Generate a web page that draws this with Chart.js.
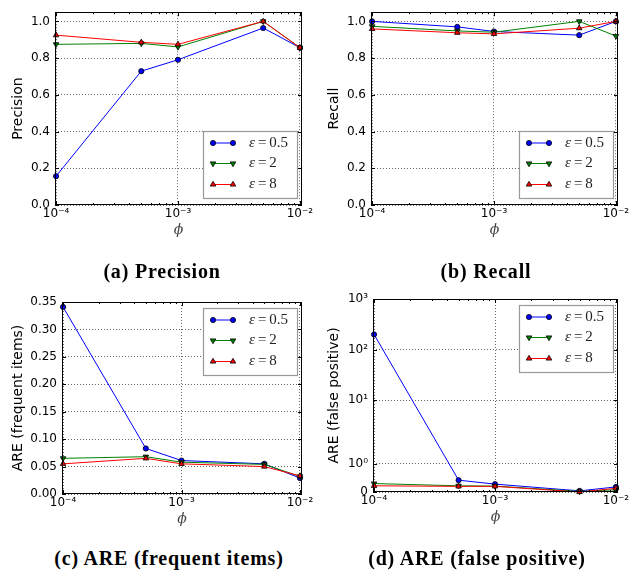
<!DOCTYPE html>
<html>
<head>
<meta charset="utf-8">
<script src="https://cdn.jsdelivr.net/npm/chart.js@4"></script>
<style>
  body { margin: 0; background: #fff; width: 636px; height: 571px; position: relative; overflow: hidden; }
  canvas { position: absolute; }
  .cap { position: absolute; font: bold 20px 'Liberation Serif', serif; letter-spacing: 0.8px;
         white-space: nowrap; transform: translate(-50%, -50%); color: #000; }
</style>
</head>
<body>
<canvas id="chartA" width="318" height="240" style="left:0;top:0"></canvas>
<canvas id="chartB" width="318" height="240" style="left:316px;top:0"></canvas>
<canvas id="chartC" width="318" height="249" style="left:0;top:280px"></canvas>
<canvas id="chartD" width="318" height="247" style="left:316px;top:280px"></canvas>
<div class="cap" style="left:162px;top:271px">(a) Precision</div>
<div class="cap" style="left:486px;top:271px">(b) Recall</div>
<div class="cap" style="left:169px;top:558px">(c) ARE (frequent items)</div>
<div class="cap" style="left:477px;top:558px">(d) ARE (false positive)</div>
<script>
// phi values on the x axis
const phi = [1e-4, 5e-4, 1e-3, 5e-3, 1e-2];
const epsLabels = ['0.5', '2', '8'];

// (a) precision
const precision05 = [0.157, 0.729, 0.791, 0.964, 0.857];
const precision2  = [0.875, 0.880, 0.861, 1.000, 0.857];
const precision8  = [0.925, 0.886, 0.875, 1.000, 0.857];
// (b) recall
const recall05 = [1.000, 0.970, 0.945, 0.925, 1.000];
const recall2  = [0.973, 0.948, 0.941, 1.000, 0.920];
const recall8  = [0.959, 0.938, 0.932, 0.963, 1.000];
// (c) ARE of frequent items
const areFreq05 = [0.341, 0.083, 0.061, 0.055, 0.029];
const areFreq2  = [0.065, 0.068, 0.058, 0.054, 0.032];
const areFreq8  = [0.055, 0.065, 0.055, 0.050, 0.033];
// (d) ARE of false positives (symlog axis)
const areFp05 = [200, 0.42, 0.28, 0.04, 0.18];
const areFp2  = [0.30, 0.22, 0.21, 0.02, 0.08];
const areFp8  = [0.22, 0.20, 0.20, 0.00, 0.13];

// tick values
const xTicks = [1e-4, 1e-3, 1e-2];
const unitTicks = [0, 0.2, 0.4, 0.6, 0.8, 1.0];
const areFreqTicks = [0, 0.05, 0.10, 0.15, 0.20, 0.25, 0.30, 0.35];
const areFpTicks = [0, 1, 10, 100, 1000];

const styles = [
  { color: '#0000ff', pointStyle: 'circle', rotation: 0, radius: 2.6 },
  { color: '#008000', pointStyle: 'triangle', rotation: 180, radius: 3.2 },
  { color: '#ff0000', pointStyle: 'triangle', rotation: 0, radius: 3.2 }
];

Chart.defaults.font.family = "'DejaVu Sans', sans-serif";
Chart.defaults.font.size = 12;
Chart.defaults.color = '#000';

const SUP = { '-': '⁻', '0': '⁰', '1': '¹', '2': '²', '3': '³', '4': '⁴', '5': '⁵' };
function pow10Label(v) {
  const e = String(Math.round(Math.log10(v)));
  return '10' + e.split('').map(c => SUP[c]).join('');
}

// symmetric log, linthresh 2, linscale 1 (matplotlib style)
const LINTHRESH = 2;
const LINSCALE = 1 / (1 - 1 / 10);
function symlog(v) {
  const a = Math.abs(v);
  if (a <= LINTHRESH) return v / LINTHRESH * LINSCALE;
  return Math.sign(v) * (LINSCALE + Math.log10(a / LINTHRESH));
}
function symexp(u) {
  const a = Math.abs(u);
  if (a <= LINSCALE) return u * LINTHRESH / LINSCALE;
  return Math.sign(u) * LINTHRESH * Math.pow(10, a - LINSCALE);
}
class SymlogScale extends Chart.LinearScale {
  getPixelForValue(value) {
    const lo = symlog(this.min), hi = symlog(this.max);
    return this.getPixelForDecimal((symlog(value) - lo) / (hi - lo));
  }
  getValueForPixel(pixel) {
    const lo = symlog(this.min), hi = symlog(this.max);
    return symexp(lo + this.getDecimalForPixel(pixel) * (hi - lo));
  }
}
SymlogScale.id = 'symlog';
SymlogScale.defaults = Chart.LinearScale.defaults;
Chart.register(SymlogScale);

// full box, inward ticks, minor ticks on the log x axis
const framePlugin = {
  id: 'frame',
  afterDatasetsDraw(chart) {
    const { ctx, chartArea: a, scales: { x, y } } = chart;
    ctx.save();
    ctx.strokeStyle = '#000';
    ctx.lineWidth = 1;
    ctx.beginPath();
    x.ticks.forEach(t => {
      const px = Math.round(x.getPixelForValue(t.value)) + 0.5;
      ctx.moveTo(px, a.bottom); ctx.lineTo(px, a.bottom - 4);
      ctx.moveTo(px, a.top); ctx.lineTo(px, a.top + 4);
    });
    for (let d = -5; d <= -2; d++) {
      for (let k = 2; k <= 9; k++) {
        const v = k * Math.pow(10, d);
        if (v < x.min || v > x.max) continue;
        const px = Math.round(x.getPixelForValue(v)) + 0.5;
        ctx.moveTo(px, a.bottom); ctx.lineTo(px, a.bottom - 2);
        ctx.moveTo(px, a.top); ctx.lineTo(px, a.top + 2);
      }
    }
    y.ticks.forEach(t => {
      const py = Math.round(y.getPixelForValue(t.value)) + 0.5;
      ctx.moveTo(a.left, py); ctx.lineTo(a.left + 4, py);
      ctx.moveTo(a.right, py); ctx.lineTo(a.right - 4, py);
    });
    ctx.stroke();
    ctx.strokeRect(Math.round(a.left) + 0.5, Math.round(a.top) + 0.5,
                   Math.round(a.width) - 1, Math.round(a.height) - 1);
    ctx.restore();
  }
};

// matplotlib-like boxed legend inside the plot
const boxLegend = {
  id: 'boxLegend',
  afterDraw(chart, args, opts) {
    const { ctx, chartArea: a } = chart;
    const w = 94, h = 67;
    const bx = a.right - 5 - w;
    const by = opts.corner === 'top' ? a.top + 6 : a.bottom - 7 - h;
    ctx.save();
    ctx.fillStyle = '#fff';
    ctx.fillRect(bx, by, w, h);
    ctx.strokeStyle = '#999';
    ctx.lineWidth = 1.2;
    ctx.strokeRect(Math.round(bx) + 0.5, Math.round(by) + 0.5, w, h);
    const rows = [12, 32.5, 53.5];
    chart.data.datasets.forEach((ds, i) => {
      const ry = by + rows[i];
      ctx.strokeStyle = ds.borderColor;
      ctx.lineWidth = 1;
      ctx.beginPath();
      ctx.moveTo(bx + 10, ry); ctx.lineTo(bx + 30, ry);
      ctx.stroke();
      [bx + 10, bx + 30].forEach(px => {
        ctx.fillStyle = ds.pointBackgroundColor;
        ctx.strokeStyle = '#000';
        ctx.lineWidth = 0.8;
        Chart.helpers.drawPoint(ctx, { pointStyle: ds.pointStyle, rotation: ds.pointRotation,
          radius: ds.pointRadius, borderWidth: 0.8 }, px, ry);
      });
      ctx.fillStyle = '#222';
      ctx.textBaseline = 'middle';
      let tx = bx + 46;
      ctx.font = "italic 15px 'Liberation Serif', serif";
      ctx.fillText('ε', tx, ry);
      tx += ctx.measureText('ε').width + 3;
      ctx.font = "15px 'Liberation Serif', serif";
      ctx.fillText('=', tx, ry);
      tx += ctx.measureText('=').width + 3;
      ctx.fillText(ds.label, tx, ry);
    });
    ctx.restore();
  }
};

function makeChart(id, series, cfg) {
  const datasets = series.map((vals, i) => ({
    label: epsLabels[i],
    data: phi.map((p, j) => ({ x: p, y: vals[j] })),
    borderColor: styles[i].color,
    backgroundColor: styles[i].color,
    borderWidth: 1,
    pointStyle: styles[i].pointStyle,
    pointRotation: styles[i].rotation,
    pointRadius: styles[i].radius,
    pointBackgroundColor: styles[i].color,
    pointBorderColor: '#000',
    pointBorderWidth: 0.8,
    tension: 0,
    clip: false,
    order: series.length - i
  }));
  return new Chart(document.getElementById(id), {
    type: 'line',
    data: { datasets },
    options: {
      responsive: false,
      animation: false,
      devicePixelRatio: 1,
      layout: { padding: { top: cfg.padTop, right: 16, left: 0, bottom: 0 } },
      plugins: { legend: { display: false }, tooltip: { enabled: false },
                 boxLegend: { corner: cfg.corner } },
      scales: {
        x: {
          type: 'logarithmic',
          bounds: 'data',
          min: 0.98e-4, max: 1.04e-2,
          afterBuildTicks: s => { s.ticks = xTicks.map(v => ({ value: v })); },
          afterFit: s => { s.height = 35; },
          ticks: { padding: 2, autoSkip: false, maxRotation: 0, callback: v => pow10Label(v) },
          grid: { color: 'rgba(0,0,0,0.6)', lineWidth: 1, drawTicks: false },
          border: { display: false, dash: [1, 2] },
          title: { display: true, text: 'ϕ', color: '#444', padding: { top: 0, bottom: 1 },
                   font: { family: "'DejaVu Serif', serif", style: 'italic', size: 14 } }
        },
        y: {
          type: cfg.yType,
          bounds: 'data',
          min: cfg.yMin, max: cfg.yMax,
          afterBuildTicks: s => { s.ticks = cfg.yTicks.map(v => ({ value: v })); },
          afterFit: s => { s.width = cfg.yWidth; },
          ticks: { padding: 5, autoSkip: false, callback: cfg.yLabel },
          grid: { color: 'rgba(0,0,0,0.6)', lineWidth: 1, drawTicks: false },
          border: { display: false, dash: [1, 2] },
          title: { display: true, text: cfg.yTitle, padding: { top: 10, bottom: 0 },
                   font: { size: 14 } }
        }
      }
    },
    plugins: [framePlugin, boxLegend]
  });
}

makeChart('chartA', [precision05, precision2, precision8], {
  padTop: 8, corner: 'bottom', yType: 'linear', yMin: 0, yMax: 1.05, yTicks: unitTicks,
  yWidth: 55, yTitle: 'Precision', yLabel: v => v.toFixed(1)
});
makeChart('chartB', [recall05, recall2, recall8], {
  padTop: 8, corner: 'bottom', yType: 'linear', yMin: 0, yMax: 1.05, yTicks: unitTicks,
  yWidth: 55, yTitle: 'Recall', yLabel: v => v.toFixed(1)
});
makeChart('chartC', [areFreq05, areFreq2, areFreq8], {
  padTop: 22, corner: 'top', yType: 'linear', yMin: 0, yMax: 0.35, yTicks: areFreqTicks,
  yWidth: 62, yTitle: 'ARE (frequent items)', yLabel: v => v.toFixed(2)
});
makeChart('chartD', [areFp05, areFp2, areFp8], {
  padTop: 19, corner: 'top', yType: 'symlog', yMin: 0, yMax: 1000, yTicks: areFpTicks,
  yWidth: 57, yTitle: 'ARE (false positive)', yLabel: v => v === 0 ? '0' : pow10Label(v)
});
</script>
</body>
</html>
